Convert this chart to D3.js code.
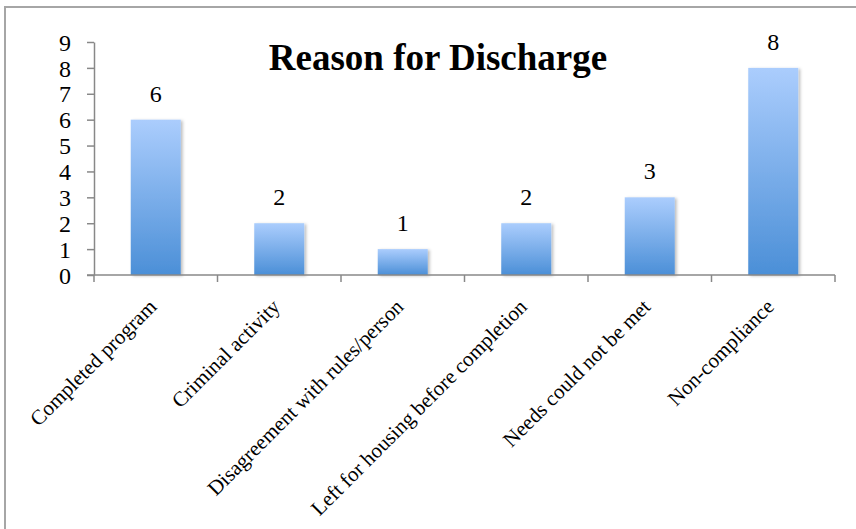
<!DOCTYPE html>
<html><head><meta charset="utf-8">
<script src="https://cdn.jsdelivr.net/npm/d3@7"></script>
<style>html,body{margin:0;padding:0;background:#fff;}svg{display:block;}</style>
</head><body>
<svg id="c" width="856" height="529"></svg>
<script>
const categories = ["Completed program","Criminal activity","Disagreement with rules/person","Left for housing before completion","Needs could not be met","Non-compliance"];
const values = [6,2,1,2,3,8];
const yTicks = [0,1,2,3,4,5,6,7,8,9];
const title = "Reason for Discharge";

const svg = d3.select("#c");
const font = "'Liberation Serif','Times New Roman',serif";
const x = d3.scaleBand().domain(categories).range([94,835]).paddingInner(0.595).paddingOuter(0.2975);
const y = d3.scaleLinear().domain([0,9]).range([275,42]);

// frame
svg.append("rect").attr("x",5).attr("y",7).attr("width",900).attr("height",600)
  .attr("fill","#fff").attr("stroke","#a6a6a6").attr("stroke-width",2);

const defs = svg.append("defs");
const g = defs.append("linearGradient").attr("id","bg").attr("x1",0).attr("y1",0).attr("x2",0).attr("y2",1);
g.append("stop").attr("offset","0%").attr("stop-color","#abcdfd");
g.append("stop").attr("offset","100%").attr("stop-color","#4b8fd7");
const f = defs.append("filter").attr("id","sh").attr("x","-20%").attr("y","-20%").attr("width","140%").attr("height","140%");
f.append("feDropShadow").attr("dx",2).attr("dy",1).attr("stdDeviation",1.5).attr("flood-color","#000").attr("flood-opacity",0.25);

// bars
svg.append("g").selectAll("rect").data(values).join("rect")
  .attr("x",(d,i)=>x(categories[i])).attr("width",x.bandwidth())
  .attr("y",d=>y(d)).attr("height",d=>y(0)-y(d))
  .attr("fill","url(#bg)").attr("filter","url(#sh)");

// y axis
const ya = svg.append("g").attr("transform","translate(94,0)")
  .call(d3.axisLeft(y).tickValues(yTicks).tickSize(7).tickPadding(16).tickSizeOuter(0));
ya.attr("font-family",font);
ya.select(".domain").attr("stroke","#888").attr("stroke-width",1.5);
ya.selectAll(".tick line").attr("stroke","#888").attr("stroke-width",1.5);
ya.selectAll(".tick text").attr("font-family",font).attr("font-size",24).attr("fill","#000").attr("dy","0.34em");

// x axis
const xa = svg.append("g").attr("transform","translate(0,275)");
xa.append("line").attr("x1",87).attr("x2",835).attr("y1",0).attr("y2",0).attr("stroke","#888").attr("stroke-width",1.5);
const bounds = categories.map(c=>x(c) - (x.step()-x.bandwidth())/2).concat([835]);
xa.selectAll("line.t").data(bounds).join("line").attr("class","t")
  .attr("x1",d=>d).attr("x2",d=>d).attr("y1",0).attr("y2",7).attr("stroke","#888").attr("stroke-width",1.5);
xa.selectAll("text").data(categories).join("text")
  .attr("transform",d=>`translate(${x(d)+x.bandwidth()/2+2},33) rotate(-45)`)
  .attr("text-anchor","end").attr("font-family",font).attr("font-size",21).attr("fill","#000").text(d=>d);

// value labels
svg.append("g").selectAll("text").data(values).join("text")
  .attr("x",(d,i)=>x(categories[i])+x.bandwidth()/2).attr("y",d=>y(d)-18)
  .attr("text-anchor","middle").attr("font-family",font).attr("font-size",24).attr("fill","#000").text(d=>d);

// title
svg.append("text").attr("x",438).attr("y",70).attr("text-anchor","middle")
  .attr("font-family",font).attr("font-weight","bold").attr("font-size",37).attr("fill","#000").text(title);
</script>
</body></html>
